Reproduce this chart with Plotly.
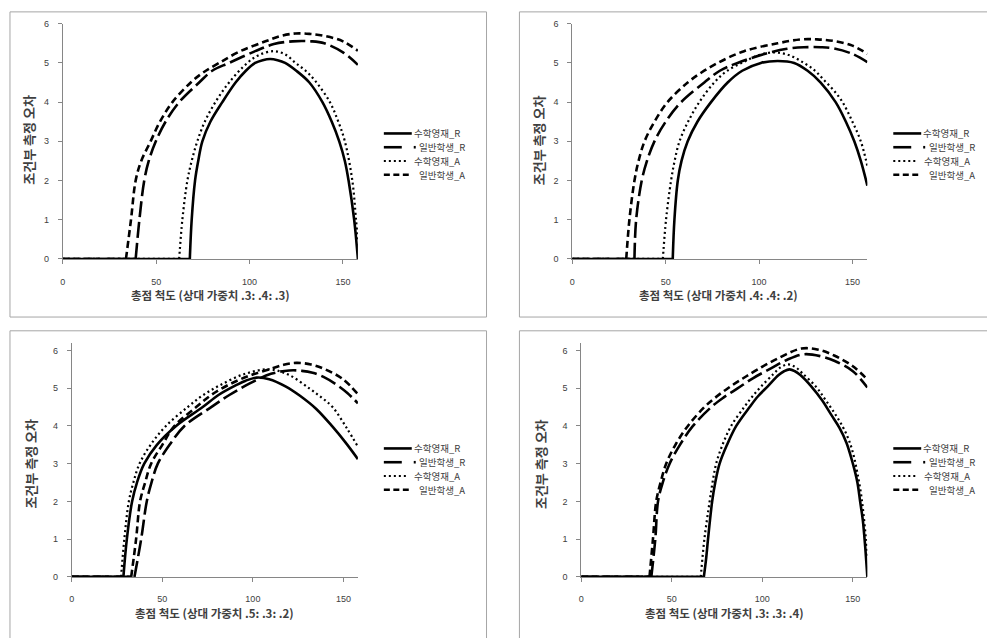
import plotly.graph_objects as go

# ---------------- data ----------------
X_MAX = 158
X_TICKS = [0, 50, 100, 150]
Y_TICKS = [0, 1, 2, 3, 4, 5, 6]
Y_MAX_TOP = 6.0
Y_MAX_BOTTOM = 6.2

SERIES_NAMES = ["수학영재_R", "일반학생_R", "수학영재_A", "일반학생_A"]
X_TITLES = [
    "총점 척도 (상대 가중치 .3: .4: .3)",
    "총점 척도 (상대 가중치 .4: .4: .2)",
    "총점 척도 (상대 가중치 .5: .3: .2)",
    "총점 척도 (상대 가중치 .3: .3: .4)",
]
Y_TITLE = "조건부 측정 오차"

# panel 1 (.3 : .4 : .3)
P1_MATH_R_X = [0, 68, 69, 70.8, 72.5, 74.7, 79, 85.4, 92.5, 98, 103, 107, 111, 115, 119, 125, 132, 139, 144, 148, 151, 153, 156, 158]
P1_MATH_R_Y = [0, 0, 1, 2, 2.5, 3, 3.5, 4, 4.5, 4.8, 5, 5.07, 5.1, 5.07, 5.0, 4.8, 4.5, 4, 3.5, 3, 2.5, 2, 1, 0]
P1_GEN_R_X = [0, 39, 41, 43.6, 46, 49.8, 55, 62.3, 73, 80, 89, 103, 113, 123, 133, 140, 150, 158]
P1_GEN_R_Y = [0, 0, 1, 2, 2.5, 3, 3.5, 4, 4.5, 4.8, 5, 5.3, 5.48, 5.55, 5.55, 5.5, 5.27, 4.95]
P1_MATH_A_X = [0, 62.3, 64, 66.7, 69, 72, 76, 81.7, 89, 98.8, 105, 113, 119, 124.6, 130, 135, 143, 147.5, 151, 155, 157, 158]
P1_MATH_A_Y = [0, 0, 1, 2, 2.5, 3, 3.5, 4, 4.5, 5, 5.2, 5.3, 5.22, 5, 4.8, 4.55, 4, 3.5, 3, 2, 1, 0.5]
P1_GEN_A_X = [0, 33.8, 36.5, 39, 42, 47, 52, 58.7, 68.5, 75, 83.7, 95, 108.5, 117, 124.6, 132, 140, 150, 158]
P1_GEN_A_Y = [0, 0, 1, 2, 2.5, 3, 3.5, 4, 4.5, 4.75, 5, 5.3, 5.55, 5.69, 5.75, 5.74, 5.69, 5.55, 5.31]

# panel 2 (.4 : .4 : .2)
P2_MATH_R_X = [0, 53.8, 54.7, 56.5, 58.5, 61.8, 67, 74.3, 83.2, 91, 101, 110, 118.8, 126, 133, 141, 146.5, 151, 154.5, 158]
P2_MATH_R_Y = [0, 0, 1, 2, 2.5, 3, 3.5, 4, 4.5, 4.8, 5, 5.05, 5, 4.8, 4.5, 4, 3.5, 3, 2.5, 1.87]
P2_GEN_R_X = [0, 33.3, 34.2, 37.2, 40, 44, 50, 58.3, 70.7, 79, 88.5, 104.6, 115, 124, 133, 140, 150, 158]
P2_GEN_R_Y = [0, 0, 1, 2, 2.5, 3, 3.5, 4, 4.5, 4.8, 5, 5.25, 5.36, 5.4, 5.4, 5.37, 5.23, 5.02]
P2_MATH_A_X = [0, 48.5, 50.2, 52.9, 54.8, 57.4, 62, 68, 76, 83, 92, 100, 108, 116, 124, 130, 135, 140, 144.7, 150, 154.5, 158]
P2_MATH_A_Y = [0, 0, 1, 2, 2.5, 3, 3.5, 4, 4.5, 4.8, 5.03, 5.2, 5.27, 5.2, 5, 4.8, 4.55, 4.3, 4, 3.5, 3, 2.37]
P2_GEN_A_X = [0, 28.9, 30.6, 33.3, 35.5, 38.7, 44, 51, 61.8, 69, 77.9, 92, 110, 122.4, 131, 140, 150, 158]
P2_GEN_A_Y = [0, 0, 1, 2, 2.5, 3, 3.5, 4, 4.5, 4.75, 5, 5.3, 5.5, 5.6, 5.6, 5.56, 5.44, 5.23]

# panel 3 (.5 : .3 : .2)
P3_MATH_R_X = [0, 28.5, 30.4, 33.3, 36, 40, 47, 57.6, 72.3, 81, 90.7, 96, 102, 109, 118, 126, 135, 144, 151, 158]
P3_MATH_R_Y = [0, 0, 1, 2, 2.5, 3, 3.5, 4, 4.5, 4.82, 5.08, 5.2, 5.28, 5.24, 5.05, 4.8, 4.45, 3.98, 3.57, 3.12]
P3_GEN_R_X = [0, 34.6, 38.3, 41.4, 44, 47.5, 54, 62.2, 77, 87, 98, 110, 120, 127, 133, 139, 146, 152, 158]
P3_GEN_R_Y = [0, 0, 1, 2, 2.5, 3, 3.5, 4, 4.5, 4.82, 5.12, 5.38, 5.47, 5.46, 5.41, 5.3, 5.1, 4.88, 4.6]
P3_MATH_A_X = [0, 27.2, 29, 31.5, 34, 37.4, 43.5, 52, 64, 72, 81.5, 95, 109, 120, 131, 138, 144, 152, 158]
P3_MATH_A_Y = [0, 0, 1, 2, 2.5, 3, 3.5, 4, 4.5, 4.8, 5.07, 5.37, 5.5, 5.35, 5, 4.75, 4.5, 3.93, 3.45]
P3_GEN_A_X = [0, 32.8, 35.5, 37.7, 40.5, 43.8, 50, 56.7, 68.7, 77, 87, 98, 109, 117, 124, 132, 140, 150, 158]
P3_GEN_A_Y = [0, 0, 1, 2, 2.5, 3, 3.5, 4, 4.5, 4.82, 5.1, 5.33, 5.5, 5.62, 5.67, 5.63, 5.5, 5.23, 4.84]

# panel 4 (.3 : .3 : .4)
P4_MATH_R_X = [0, 67.7, 69, 70, 72.3, 74, 76.4, 80.5, 85.6, 93, 97.5, 103, 109, 112, 115, 118, 121, 127, 133, 138, 142.6, 146.5, 150, 152.5, 154, 155.5, 156.8, 158]
P4_MATH_R_Y = [0, 0, 0.5, 1, 2, 2.5, 3, 3.5, 4, 4.5, 4.78, 5.05, 5.35, 5.45, 5.5, 5.45, 5.35, 5.05, 4.68, 4.3, 3.95, 3.55, 3.0, 2.5, 2, 1.5, 0.8, 0]
P4_GEN_R_X = [0, 38.7, 40.9, 42.4, 45, 48.8, 54.5, 61.7, 71.8, 78.5, 86.5, 95, 105, 114, 123, 132, 140, 150, 158]
P4_GEN_R_Y = [0, 0, 1, 2, 2.5, 3, 3.5, 4, 4.5, 4.75, 5, 5.27, 5.53, 5.76, 5.9, 5.85, 5.72, 5.45, 5.02]
P4_MATH_A_X = [0, 66, 68, 70.9, 72.5, 74.5, 78, 82.8, 90, 94.5, 99.4, 106, 110, 114, 118, 122, 129.8, 135, 140, 144.5, 148, 150.5, 152.5, 154.5, 156, 157.2, 158]
P4_MATH_A_Y = [0, 0, 1, 2, 2.5, 3, 3.5, 4, 4.5, 4.78, 5.05, 5.37, 5.55, 5.63, 5.57, 5.4, 5.03, 4.68, 4.33, 3.97, 3.6, 3.2, 2.75, 2.2, 1.6, 1.0, 0.5]
P4_GEN_A_X = [0, 37.7, 39.6, 41.4, 43.8, 46.9, 52, 58.9, 68, 74, 81, 89, 97.5, 109, 121.5, 131, 140, 150, 158]
P4_GEN_A_Y = [0, 0, 1, 2, 2.5, 3, 3.5, 4, 4.5, 4.75, 5, 5.25, 5.5, 5.8, 6.05, 6.02, 5.86, 5.58, 5.23]

PANEL_DATA = [
    [(P1_MATH_R_X, P1_MATH_R_Y), (P1_GEN_R_X, P1_GEN_R_Y), (P1_MATH_A_X, P1_MATH_A_Y), (P1_GEN_A_X, P1_GEN_A_Y)],
    [(P2_MATH_R_X, P2_MATH_R_Y), (P2_GEN_R_X, P2_GEN_R_Y), (P2_MATH_A_X, P2_MATH_A_Y), (P2_GEN_A_X, P2_GEN_A_Y)],
    [(P3_MATH_R_X, P3_MATH_R_Y), (P3_GEN_R_X, P3_GEN_R_Y), (P3_MATH_A_X, P3_MATH_A_Y), (P3_GEN_A_X, P3_GEN_A_Y)],
    [(P4_MATH_R_X, P4_MATH_R_Y), (P4_GEN_R_X, P4_GEN_R_Y), (P4_MATH_A_X, P4_MATH_A_Y), (P4_GEN_A_X, P4_GEN_A_Y)],
]

# ---------------- style / layout ----------------
W, H = 987, 638
FONT = "Noto Sans CJK KR, Liberation Sans, sans-serif"
TICK_FONT = "Liberation Sans, Noto Sans CJK KR, sans-serif"
AXIS_GREY = "#868686"
TEXT_GREY = "#404040"
BORDER_GREY = "#a6a6a6"

DASHES = ["solid", "16px,5px", "2px,3px", "7px,4px"]
WIDTHS = [2.6, 2.6, 2.2, 2.6]


def px(x):
    return x / W


def py(y):
    return (H - y) / H


def split_zero_run(xs, ys):
    """Draw the flat zero run as a straight piece and the curve as a smooth piece."""
    k = 0
    while k + 1 < len(ys) and ys[k + 1] == 0:
        k += 1
    return xs[:k + 1] + [None] + xs[k:], ys[:k + 1] + [None] + ys[k:]


# pixel boxes for each plot area: (left, right, top_at_ymax, bottom_at_0)
PLOT_BOXES = [
    (60, 356, 19, 258),
    (571, 867, 19, 258),
    (69, 356, 343.3, 581),
    (580, 867, 343.3, 581),
]
Y_MAXES = [Y_MAX_TOP, Y_MAX_TOP, Y_MAX_BOTTOM, Y_MAX_BOTTOM]
X_LABEL_STANDOFF = [10, 10, 9, 9]
FRAMES = [(7, 485, 7, 317), (518, 995, 7, 317), (7, 485, 331, 650), (518, 995, 331, 650)]
X_TITLE_POS = [(208, 294.5), (718, 294.5), (212, 618), (724, 618)]
Y_TITLE_POS = [(26, 137), (537, 137), (28, 466), (539, 466)]
LEGEND_X = [382, 893, 382, 893]
LEGEND_CENTER = [151.5, 151.5, 471.5, 471.5]
LEGEND_STEP = 14

fig = go.Figure()
layout = dict(
    width=W, height=H, autosize=False,
    margin=dict(l=0, r=0, t=0, b=0, pad=0),
    paper_bgcolor="white", plot_bgcolor="white",
    showlegend=False,
    font=dict(family=FONT, color=TEXT_GREY),
)
shapes = []
annotations = []

for p in range(4):
    suffix = "" if p == 0 else str(p + 1)
    left, right, top, bottom = PLOT_BOXES[p]
    for s in range(4):
        xs, ys = split_zero_run(*PANEL_DATA[p][s])
        fig.add_trace(go.Scatter(
            x=xs, y=ys, mode="lines", name=SERIES_NAMES[s], connectgaps=False,
            line=dict(color="black", width=WIDTHS[s], dash=DASHES[s], shape="spline", smoothing=1.0),
            xaxis="x" + suffix, yaxis="y" + suffix,
        ))
    layout["xaxis" + suffix] = dict(
        domain=[px(left), px(right)], anchor="y" + suffix,
        range=[0, X_MAX], tickvals=X_TICKS, showgrid=False, zeroline=False,
        showline=True, linecolor=AXIS_GREY, linewidth=1,
        ticks="outside", ticklen=4, tickcolor=AXIS_GREY,
        tickfont=dict(size=9, color=TEXT_GREY, family=TICK_FONT),
        ticklabelstandoff=X_LABEL_STANDOFF[p],
        fixedrange=True,
    )
    layout["yaxis" + suffix] = dict(
        domain=[py(bottom), py(top)], anchor="x" + suffix,
        range=[0, Y_MAXES[p]], tickvals=Y_TICKS, showgrid=False, zeroline=False,
        showline=True, linecolor=AXIS_GREY, linewidth=1,
        ticks="outside", ticklen=4, tickcolor=AXIS_GREY,
        tickfont=dict(size=9, color=TEXT_GREY, family=TICK_FONT),
        ticklabelstandoff=7,
        fixedrange=True,
    )
    # panel frame
    fx0, fx1, fy0, fy1 = FRAMES[p]
    shapes.append(dict(type="rect", xref="paper", yref="paper",
                       x0=px(fx0), x1=px(fx1), y0=py(fy1), y1=py(fy0),
                       line=dict(color=BORDER_GREY, width=1), layer="below"))
    # axis titles
    tx, ty = X_TITLE_POS[p]
    annotations.append(dict(text="<b>" + X_TITLES[p] + "</b>", xref="paper", yref="paper",
                            x=px(tx), y=py(ty), xanchor="center", yanchor="middle",
                            showarrow=False, borderpad=0,
                            font=dict(size=11.5, color=TEXT_GREY, family=FONT)))
    yx, yy = Y_TITLE_POS[p]
    annotations.append(dict(text="<b>" + Y_TITLE + "</b>", xref="paper", yref="paper",
                            x=px(yx), y=py(yy), xanchor="center", yanchor="middle", textangle=-90,
                            showarrow=False, font=dict(size=13, color=TEXT_GREY, family=FONT)))
    # legend (Excel-like, drawn beside each plot)
    lx = LEGEND_X[p]
    c = LEGEND_CENTER[p]
    rows = [c - 1.5 * LEGEND_STEP, c - 0.5 * LEGEND_STEP, c + 0.5 * LEGEND_STEP, c + 1.5 * LEGEND_STEP]
    key_specs = [
        (lx, lx + 28, "solid", 2.6, lx + 29),
        (lx, lx + 18, "solid", 2.6, lx + 34.5),
        (lx, lx + 25, "2px,3px", 2.2, lx + 29.5),
        (lx, lx + 25, "6px,3.5px", 2.6, lx + 34.5),
    ]
    for s in range(4):
        x0, x1, dash, wdt, tx0 = key_specs[s]
        shapes.append(dict(type="line", xref="paper", yref="paper",
                           x0=px(x0), x1=px(x1), y0=py(rows[s]), y1=py(rows[s]),
                           line=dict(color="black", width=wdt, dash=dash)))
        if s == 1:
            shapes.append(dict(type="line", xref="paper", yref="paper",
                               x0=px(lx + 30), x1=px(lx + 32), y0=py(rows[s]), y1=py(rows[s]),
                               line=dict(color="black", width=2.6)))
        annotations.append(dict(text=SERIES_NAMES[s], xref="paper", yref="paper",
                                x=px(tx0), y=py(rows[s]), xanchor="left", yanchor="middle",
                                showarrow=False, borderpad=0,
                                font=dict(size=9.5, color=TEXT_GREY, family=FONT)))

layout["shapes"] = shapes
layout["annotations"] = annotations
fig.update_layout(**layout)
fig.write_html(
    "out.html",
    config={"displayModeBar": False},
    post_script="document.body.style.margin='0';document.body.style.overflow='hidden';",
)
